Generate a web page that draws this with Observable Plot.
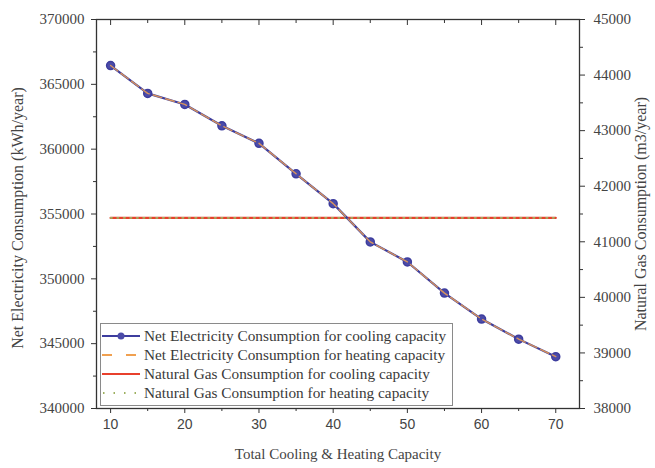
<!DOCTYPE html>
<html>
<head>
<meta charset="utf-8">
<script src="https://cdn.jsdelivr.net/npm/d3@7"></script>
<script src="https://cdn.jsdelivr.net/npm/@observablehq/plot@0.6"></script>
<style>
  body { margin: 0; background: #fff; }
  #wrap { position: relative; width: 655px; height: 468px; }
  #legend {
    position: absolute; left: 100px; top: 323px; width: 353px; height: 83px;
    border: 1px solid #8a8a8a; background: #fff; box-sizing: border-box;
    font-family: "Liberation Serif", serif; font-size: 15.3px; color: #3a3a3a;
    padding-top: 2px;
  }
  .row { display: flex; align-items: center; height: 19px; white-space: nowrap; }
  .row svg { flex: none; margin-right: 1px; }
</style>
</head>
<body>
<div id="wrap"></div>
<script>
// ---- data ----
const capacity = [10, 15, 20, 25, 30, 35, 40, 45, 50, 55, 60, 65, 70];
const elecCooling = [366450, 364300, 363450, 361800, 360450, 358100, 355800, 352850, 351300, 348900, 346900, 345350, 344000];
const elecHeating = [366450, 364300, 363450, 361800, 360450, 358100, 355800, 352850, 351300, 348900, 346900, 345350, 344000];
const gasCooling = [41430, 41430, 41430, 41430, 41430, 41430, 41430, 41430, 41430, 41430, 41430, 41430, 41430];
const gasHeating = [41430, 41430, 41430, 41430, 41430, 41430, 41430, 41430, 41430, 41430, 41430, 41430, 41430];
const leftTicks = [340000, 345000, 350000, 355000, 360000, 365000, 370000];
const rightTicks = [38000, 39000, 40000, 41000, 42000, 43000, 44000, 45000];
const xTicks = [10, 20, 30, 40, 50, 60, 70];
const seriesNames = [
  "Net Electricity Consumption for cooling capacity",
  "Net Electricity Consumption for heating capacity",
  "Natural Gas Consumption for cooling capacity",
  "Natural Gas Consumption for heating capacity"
];
const leftTitle = "Net Electricity Consumption (kWh/year)";
const rightTitle = "Natural Gas Consumption (m3/year)";
const xTitle = "Total Cooling & Heating Capacity";

// right axis (gas) mapped onto left scale
const yL = [340000, 370000], yR = [38000, 45000];
const g2e = v => yL[0] + (v - yR[0]) * (yL[1] - yL[0]) / (yR[1] - yR[0]);
const e2g = v => yR[0] + (v - yL[0]) * (yR[1] - yR[0]) / (yL[1] - yL[0]);

const elec1 = capacity.map((x, i) => ({x, y: elecCooling[i]}));
const elec2 = capacity.map((x, i) => ({x, y: elecHeating[i]}));
const gas1 = capacity.map((x, i) => ({x, y: g2e(gasCooling[i])}));
const gas2 = capacity.map((x, i) => ({x, y: g2e(gasHeating[i])}));

const mid = a => a.slice(0, -1).map((v, i) => (v + a[i + 1]) / 2);
const serif = "Liberation Serif, Times New Roman, serif";
const sans = "Liberation Sans, Arial, sans-serif";
const ink = "#333";
const txt = "#444";

const chart = Plot.plot({
  width: 655,
  height: 468,
  marginLeft: 96,
  marginRight: 76,
  marginTop: 19,
  marginBottom: 60,
  style: {fontFamily: serif, background: "#fff", color: ink},
  x: {domain: [8.1, 73.2]},
  y: {domain: yL},
  marks: [
    // left axis
    Plot.axisY(leftTicks, {anchor: "left", tickSize: 5, tickPadding: 7, fontSize: 15, fontFamily: serif, tickFormat: d => String(d), label: null, stroke: ink, fill: txt}),
    Plot.axisY(mid(leftTicks), {anchor: "left", tickSize: 3, tickFormat: () => "", label: null, stroke: ink}),
    Plot.text([leftTitle], {frameAnchor: "left", dx: -79, dy: 4, rotate: -90, textAnchor: "middle", lineAnchor: "middle", fontSize: 16, fontFamily: serif, fill: txt}),
    // right axis
    Plot.axisY(rightTicks.map(g2e), {anchor: "right", tickSize: 5, tickPadding: 9, fontSize: 15, fontFamily: serif, tickFormat: d => String(Math.round(e2g(d))), label: null, stroke: ink, fill: txt}),
    Plot.axisY(mid(rightTicks).map(g2e), {anchor: "right", tickSize: 3, tickFormat: () => "", label: null, stroke: ink}),
    Plot.text([rightTitle], {frameAnchor: "right", dx: 61, rotate: -90, textAnchor: "middle", lineAnchor: "middle", fontSize: 16, fontFamily: serif, fill: txt}),
    // bottom axis
    Plot.axisX(xTicks, {anchor: "bottom", tickSize: 5, tickPadding: 6, fontSize: 14, fontFamily: sans, label: null, stroke: ink, fill: txt}),
    Plot.axisX(mid(xTicks), {anchor: "bottom", tickSize: 3, tickFormat: () => "", label: null, stroke: ink}),
    // top axis (inward ticks)
    Plot.axisX(xTicks, {anchor: "top", tickSize: -5, tickFormat: () => "", label: null, stroke: ink}),
    Plot.axisX(mid(xTicks), {anchor: "top", tickSize: -3, tickFormat: () => "", label: null, stroke: ink}),
    Plot.text([xTitle], {frameAnchor: "bottom", dy: 50, fontSize: 15, fontFamily: serif, fill: txt}),
    Plot.frame({stroke: ink, strokeWidth: 1.3}),
    // series
    Plot.line(gas1, {x: "x", y: "y", stroke: "#e8402c", strokeWidth: 2.2}),
    Plot.line(gas2, {x: "x", y: "y", stroke: "#9db060", strokeWidth: 1.6, strokeDasharray: "1.5,5"}),
    Plot.line(elec1, {x: "x", y: "y", stroke: "#3d3d9e", strokeWidth: 2.2}),
    Plot.dot(elec1, {x: "x", y: "y", r: 4, fill: "#4b4ba8", stroke: "#3d3d9e"}),
    Plot.line(elec2, {x: "x", y: "y", stroke: "#f0a050", strokeWidth: 1.4, strokeDasharray: "9,4", strokeOpacity: 0.85})
  ]
});

const wrap = document.getElementById("wrap");
wrap.appendChild(chart);

// legend
const swatches = [
  `<line x1="1" x2="39" y1="7" y2="7" stroke="#3d3d9e" stroke-width="2"/><circle cx="20" cy="7" r="3.5" fill="#4b4ba8"/>`,
  `<line x1="1" x2="39" y1="7" y2="7" stroke="#f0a050" stroke-width="2" stroke-dasharray="10,14"/>`,
  `<line x1="1" x2="39" y1="7" y2="7" stroke="#e8402c" stroke-width="2.2"/>`,
  `<line x1="2" x2="39" y1="7" y2="7" stroke="#9db060" stroke-width="2" stroke-dasharray="1.5,9"/>`
];
const legend = document.createElement("div");
legend.id = "legend";
legend.innerHTML = seriesNames.map((n, i) =>
  `<div class="row"><svg width="42" height="14">${swatches[i]}</svg><span>${n}</span></div>`).join("");
wrap.appendChild(legend);
</script>
</body>
</html>
